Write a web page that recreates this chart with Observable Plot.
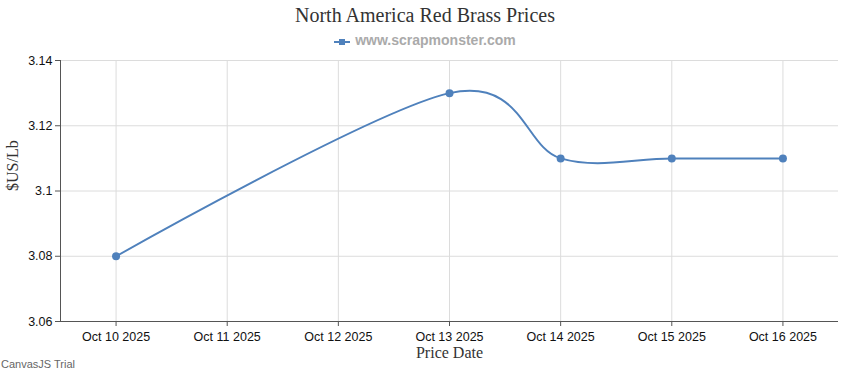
<!DOCTYPE html>
<html>
<head>
<meta charset="utf-8">
<script src="https://cdn.jsdelivr.net/npm/d3@7"></script>
<script src="https://cdn.jsdelivr.net/npm/@observablehq/plot@0.6"></script>
<style>
  body { margin: 0; background: #fff; }
  #wrap { position: relative; width: 850px; height: 370px; overflow: hidden; }
  #title { position: absolute; top: 4px; left: 0; width: 850px; text-align: center;
           font: 20px "Liberation Serif", "Times New Roman", serif; color: #333; }
  #legend { position: absolute; top: 32px; left: 0; width: 850px; text-align: center;
            font: bold 14px "Liberation Sans", Arial, sans-serif; color: #aaa; }
  #legend svg { vertical-align: -1px; margin-right: 5px; }
  #chart { position: absolute; top: 50px; left: 0; }
  #trial { position: absolute; left: 1px; top: 358px; font: 11px "Liberation Sans", Arial, sans-serif; color: #666; }
</style>
</head>
<body>
<div id="wrap">
  <div id="title"></div>
  <div id="legend"></div>
  <div id="chart"></div>
  <div id="trial"></div>
</div>
<script>
const titleText = "North America Red Brass Prices";
const legendText = "www.scrapmonster.com";
const xTitle = "Price Date";
const yTitle = "$US/Lb";
const trialText = "CanvasJS Trial";

const dates = ["2025-10-10", "2025-10-13", "2025-10-14", "2025-10-15", "2025-10-16"];
const prices = [3.08, 3.13, 3.11, 3.11, 3.11];
const tickDates = ["2025-10-10", "2025-10-11", "2025-10-12", "2025-10-13", "2025-10-14", "2025-10-15", "2025-10-16"];
const yTicks = [3.06, 3.08, 3.1, 3.12, 3.14];

const color = "#4F81BC";
const parse = s => new Date(s + "T00:00:00Z");
const data = dates.map((d, i) => ({date: parse(d), price: prices[i]}));
const xTicks = tickDates.map(parse);
const halfDay = 12 * 3600 * 1000;
const xDomain = [new Date(+xTicks[0] - halfDay), new Date(+xTicks[xTicks.length - 1] + halfDay)];

document.getElementById("title").textContent = titleText;
document.getElementById("trial").textContent = trialText;
const leg = document.getElementById("legend");
leg.innerHTML = `<svg width="16" height="8"><line x1="0" x2="16" y1="4" y2="4" stroke="${color}" stroke-width="2"/><rect x="5" y="1" width="6" height="6" fill="${color}"/></svg>`;
leg.appendChild(document.createTextNode(legendText));

const chart = Plot.plot({
  width: 850,
  height: 320,
  marginTop: 10,
  marginLeft: 60,
  marginRight: 12,
  marginBottom: 49,
  style: {fontFamily: "'Liberation Sans', Arial, sans-serif", fontSize: "12.5px", color: "#111", background: "#fff"},
  x: {type: "utc", domain: xDomain},
  y: {domain: [3.06, 3.14]},
  marks: [
    Plot.gridX(xTicks, {stroke: "#dcdcdc", strokeOpacity: 1}),
    Plot.gridY(yTicks, {stroke: "#dcdcdc", strokeOpacity: 1}),
    Plot.axisX(xTicks, {tickFormat: d3.utcFormat("%b %d %Y"), tickSize: 5, tickPadding: 6, stroke: "#555", label: null}),
    Plot.axisY(yTicks, {tickFormat: d => String(+d.toFixed(2)), tickSize: 5, tickPadding: 3, stroke: "#555", label: null}),
    Plot.ruleY([3.06], {stroke: "#555"}),
    Plot.ruleX([xDomain[0]], {stroke: "#555"}),
    Plot.text([xTitle], {frameAnchor: "bottom", dy: 36, text: d => d, fontFamily: "'Liberation Serif', 'Times New Roman', serif", fontSize: 16, fill: "#333"}),
    Plot.text([yTitle], {frameAnchor: "left", dx: -48, rotate: -90, text: d => d, fontFamily: "'Liberation Serif', 'Times New Roman', serif", fontSize: 16, fill: "#333"}),
    Plot.line(data, {x: "date", y: "price", curve: "cardinal", stroke: color, strokeWidth: 2}),
    Plot.dot(data, {x: "date", y: "price", r: 4, fill: color, stroke: "none"})
  ]
});
document.getElementById("chart").appendChild(chart);
</script>
</body>
</html>
